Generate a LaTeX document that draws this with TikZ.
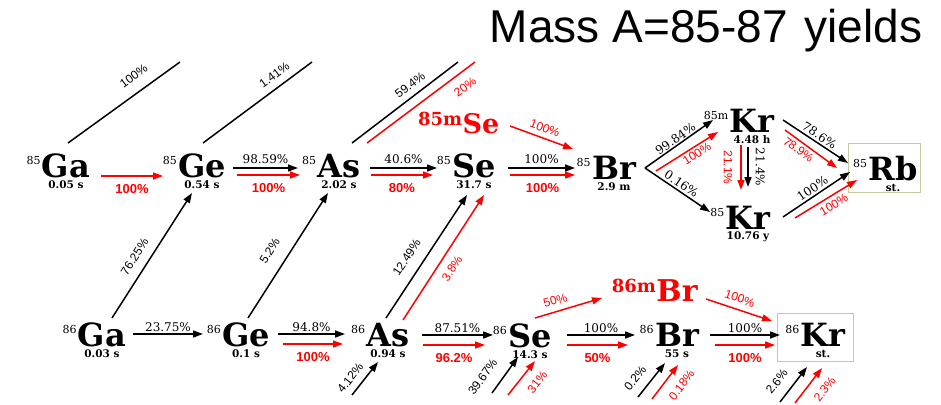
\documentclass[tikz,border=0pt]{standalone}
\usepackage{fontspec}
\setmainfont{DejaVu Serif}
\newfontfamily\lsans{Liberation Sans}
\usetikzlibrary{arrows.meta, calc}
\definecolor{stablebox}{HTML}{C3CB9F}
\definecolor{decayred}{HTML}{FF0000}

\tikzset{
  sym/.style={font=\bfseries\fontsize{32}{32}\selectfont, inner sep=0pt},
  msym/.style={decayred, inner sep=0pt, font=\bfseries\fontsize{27}{27}\selectfont},
  massno/.style={font=\fontsize{11}{11}\selectfont, inner sep=0pt},
  mmass/.style={decayred, font=\bfseries\fontsize{18}{18}\selectfont, inner sep=0pt},
  halflife/.style={font=\bfseries\fontsize{10.5}{10.5}\selectfont, inner sep=0pt},
  blk/.style={line width=1.5pt, -{Triangle[length=10pt,width=7pt]}},
  rd/.style={blk, decayred},
  feed/.style={line width=1.5pt},
  lab/.style={font=\fontsize{12}{12}\selectfont, inner sep=1pt},
  slab/.style={font=\lsans\fontsize{12}{12}\selectfont, inner sep=1pt},
  rlab/.style={decayred, font=\lsans\bfseries\fontsize{13}{13}\selectfont, inner sep=1pt},
  rslab/.style={decayred, font=\lsans\fontsize{12}{12}\selectfont, inner sep=1pt},
}

\begin{document}
\begin{tikzpicture}[x=1pt, y=-1pt]
  \useasboundingbox (0,0) rectangle (941,404);
  \node[font=\lsans\fontsize{46}{46}\selectfont, inner sep=0pt, anchor=base] (title) at (706,43) {Mass A=85-87\hspace{4pt} yields};

  % Nuclides
  \foreach \nm/\x/\yy/\A/\el/\hl in {Ga85/66/166/85/Ga/0.05 s, Ge85/202/166/85/Ge/0.54 s,
      As85/339/166/85/As/2.02 s, Se85/474/166/85/Se/31.7 s, Br85/614/168/85/Br/2.9 m,
      Kr85m/752/121/85m/Kr/4.48 h, Kr85/748/218/85/Kr/10.76 y, Rb85/893/169/85/Rb/st.,
      Ga86/102/335/86/Ga/0.03 s, Ge86/246/335/86/Ge/0.1 s, As86/388/335/86/As/0.94 s,
      Se86/530/336/86/Se/14.3 s, Br86/677/335/86/Br/55 s, Kr86/823/335/86/Kr/st.} {
    \node[sym] (\nm) at (\x,\yy) {\el};
    \node[massno, anchor=east] (\nm-A) at ($(\nm.west)+(-1,-6)$) {\A};
    \node[halflife] (\nm-t) at ($(\nm)+(0,19)$) {\hl};
  }

  % Isomers
  \node[msym] (Se85m) at (481,124) {Se};
  \node[mmass, anchor=east] (Se85m-A) at ($(Se85m.west)+(0,-5)$) {85m};
  \node[msym, font=\bfseries\fontsize{30}{30}\selectfont] (Br86m) at (677,291) {Br};
  \node[mmass, anchor=east] (Br86m-A) at ($(Br86m.west)+(0,-5)$) {86m};

  % Stable
  \draw[stablebox, line width=1pt] ($(Rb85)+(-45,-26)$) rectangle ($(Rb85)+(27,23)$);
  \draw[stablebox, line width=1pt] ($(Kr86)+(-46,-22)$) rectangle ($(Kr86)+(30,26)$);

  % Free ends (A=84 above, A=87 below)
  \coordinate (Ga84) at (180,62);
  \coordinate (Ge84) at (312,62);
  \coordinate (As84) at (458,62);
  \coordinate (As84r) at (475,62);
  \coordinate (As87) at (352,395);
  \coordinate (Se87) at (492,393);
  \coordinate (Se87r) at (508,395);
  \coordinate (Br87) at (638,397);
  \coordinate (Br87r) at (652,399);
  \coordinate (Kr87) at (780,402);
  \coordinate (Kr87r) at (795,403);

  % A=85 chain
  \draw[feed] ($(Ga85)+(2,-23)$) -- node[slab, sloped, pos=0.67, above=10pt] {100\%} (Ga84);
  \draw[feed] ($(Ge85)+(1,-23)$) -- node[slab, sloped, pos=0.72, above=6pt] {1.41\%} (Ge84);
  \draw[feed] ($(As85)+(13,-23)$) -- node[slab, sloped, pos=0.61, above=5pt] {59.4\%} (As84);
  \draw[feed, decayred] ($(As85)+(28,-23)$) -- node[rslab, sloped, pos=0.83, below=8pt] {20\%} (As84r);

  \draw[rd] ($(Ga85)+(35,10)$) -- node[rlab, below=7pt] {100\%} ($(Ge85)+(-39,10)$);
  \draw[blk] ($(Ge85)+(31,2)$) -- node[lab, above=2.5pt] {98.59\%} ($(As85)+(-41,2)$);
  \draw[rd] ($(Ge85)+(35,9)$) -- node[rlab, below=7pt] {100\%} ($(As85)+(-39,9)$);
  \draw[blk] ($(As85)+(31,2)$) -- node[lab, above=2.5pt] {40.6\%} ($(Se85)+(-37,2)$);
  \draw[rd] ($(As85)+(32,9)$) -- node[rlab, below=7pt] {80\%} ($(Se85)+(-41,9)$);
  \draw[blk] ($(Se85)+(34,2)$) -- node[lab, above=2.5pt] {100\%} ($(Br85)+(-39,0)$);
  \draw[rd] ($(Se85)+(36,9)$) -- node[rlab, below=7pt] {100\%} ($(Br85)+(-39,7)$);
  \draw[rd] ($(Se85m)+(29,2)$) -- node[rslab, sloped, above=4pt] {100\%} ($(Br85)+(-41,-19)$);

  % Br-85 branches
  \draw[blk] ($(Br85)+(31,0)$) -- node[lab, sloped, above] {99.84\%} ($(Kr85m)+(-39,-1)$);
  \draw[rd] ($(Br85)+(42,3)$) -- node[rslab, sloped, pos=0.6, below=1pt] {100\%} ($(Kr85m)+(-34,11)$);
  \draw[blk] ($(Br85)+(31,0)$) -- node[lab, sloped, above=1pt] {0.16\%} ($(Kr85)+(-38,-6)$);
  \draw[rd] ($(Kr85m)+(-11,24)$) -- node[rslab, sloped, below=7pt] {21.1\%} ($(Kr85)+(-7,-28)$);
  \draw[blk] ($(Kr85m)+(-4,26)$) -- node[lab, sloped, above=6pt] {21.4\%} ($(Kr85)+(0,-31)$);
  \draw[blk] ($(Kr85m)+(31,-1)$) -- node[lab, sloped, above=1pt] {78.6\%} ($(Rb85)+(-45,-6)$);
  \draw[rd] ($(Kr85m)+(33,9)$) -- node[rslab, sloped, pos=0.35, below=2pt] {78.9\%} ($(Rb85)+(-56,-1)$);
  \draw[blk] ($(Kr85)+(35,-1)$) -- node[lab, sloped, above=1pt] {100\%} ($(Rb85)+(-43,3)$);
  \draw[rd] ($(Kr85)+(47,0)$) -- node[rslab, sloped, pos=0.55, below=3pt] {100\%} ($(Rb85)+(-36,11)$);

  % A=86 to A=85
  \draw[blk] ($(Ga86)+(10,-17)$) -- node[slab, sloped, pos=0.43, above=8pt] {76.25\%} ($(Ge85)+(-10,27)$);
  \draw[blk] ($(Ge86)+(2,-17)$) -- node[slab, sloped, pos=0.46, above=12pt] {5.2\%} ($(As85)+(-11,27)$);
  \draw[blk] ($(As86)+(-2,-17)$) -- node[slab, sloped, pos=0.42, above=10pt] {12.49\%} ($(Se85)+(-7,29)$);
  \draw[rd] ($(As86)+(15,-15)$) -- node[rslab, sloped, pos=0.47, below=7pt] {3.8\%} ($(Se85)+(10,29)$);

  % A=86 chain
  \draw[blk] ($(Ga86)+(31,-1)$) -- node[lab, above=1pt] {23.75\%} ($(Ge86)+(-43,-1)$);
  \draw[blk] ($(Ge86)+(32,-1)$) -- node[lab, above=1pt] {94.8\%} ($(As86)+(-43,-1)$);
  \draw[rd] ($(Ge86)+(37,9)$) -- node[rlab, below=7pt] {100\%} ($(As86)+(-45,9)$);
  \draw[blk] ($(As86)+(34,0)$) -- node[lab, above=1pt] {87.51\%} ($(Se86)+(-37,-1)$);
  \draw[rd] ($(As86)+(35,10)$) -- node[rlab, below=7pt] {96.2\%} ($(Se86)+(-45,9)$);
  \draw[blk] ($(Se86)+(37,-1)$) -- node[lab, above=1pt] {100\%} ($(Br86)+(-42,0)$);
  \draw[rd] ($(Se86)+(37,9)$) -- node[rlab, below=7pt] {50\%} ($(Br86)+(-49,10)$);
  \draw[blk] ($(Br86)+(33,0)$) -- node[lab, above=1pt] {100\%} ($(Kr86)+(-43,0)$);
  \draw[rd] ($(Br86)+(38,10)$) -- node[rlab, below=7pt] {100\%} ($(Kr86)+(-48,10)$);
  \draw[rd] ($(Se86)+(5,-18)$) -- node[rslab, sloped, pos=0.35, above=5pt] {50\%} ($(Br86m)+(-75,7)$);
  \draw[rd] ($(Br86m)+(29,8)$) -- node[rslab, sloped, pos=0.46, above=5pt] {100\%} ($(Kr86)+(-51,-14)$);

  % A=87 to A=86
  \draw[blk] (As87) -- node[slab, sloped, pos=0.29, above=6pt] {4.12\%} ($(As86)+(-10,27)$);
  \draw[blk] (Se87) -- node[slab, sloped, pos=0.17, above=11pt] {39.67\%} ($(Se86)+(-12,21)$);
  \draw[rd] (Se87r) -- node[rslab, sloped, pos=0.65, below=9pt] {31\%} ($(Se86)+(5,25)$);
  \draw[blk] (Br87) -- node[slab, sloped, pos=0.3, above=8pt] {0.2\%} ($(Br86)+(-12,28)$);
  \draw[rd] (Br87r) -- node[rslab, sloped, pos=0.68, below=9pt] {0.18\%} ($(Br86)+(1,30)$);
  \draw[blk] (Kr87) -- node[slab, sloped, pos=0.32, above=9pt] {2.6\%} ($(Kr86)+(-16,32)$);
  \draw[rd] (Kr87r) -- node[rslab, sloped, pos=0.66, below=9pt] {2.3\%} ($(Kr86)+(-1,33)$);
\end{tikzpicture}
\end{document}
